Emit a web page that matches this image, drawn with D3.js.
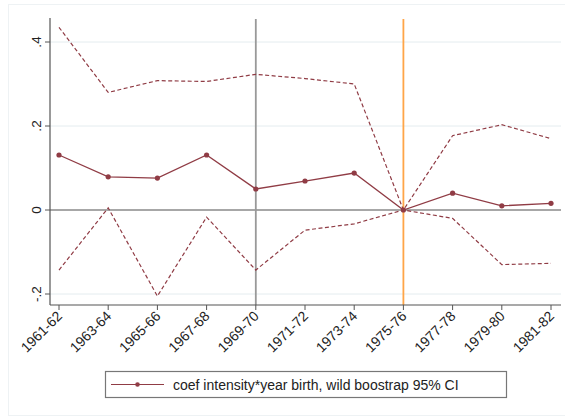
<!DOCTYPE html>
<html>
<head>
<meta charset="utf-8">
<script src="https://cdn.jsdelivr.net/npm/d3@7"></script>
<style>
  body { margin: 0; background: #fff; }
  text { font-family: "Liberation Sans", Arial, sans-serif; }
</style>
</head>
<body>
<div id="chart"></div>
<script>
// data
const cohorts = ["1961-62", "1963-64", "1965-66", "1967-68", "1969-70", "1971-72",
                 "1973-74", "1975-76", "1977-78", "1979-80", "1981-82"];
const coef  = [0.131, 0.079, 0.076, 0.131, 0.050, 0.069, 0.088, 0.000, 0.040, 0.010, 0.016];
const upper = [0.435, 0.280, 0.308, 0.306, 0.323, 0.313, 0.300, 0.000, 0.177, 0.203, 0.170];
const lower = [-0.143, 0.005, -0.205, -0.017, -0.143, -0.048, -0.033, 0.000, -0.020, -0.130, -0.127];
const yTicks = [-0.2, 0, 0.2, 0.4];
const yTickLabels = ["-.2", "0", ".2", ".4"];
const legendLabel = "coef intensity*year birth, wild boostrap 95% CI";

const width = 565, height = 417;
const red = "#903c45";

const svg = d3.select("#chart").append("svg")
    .attr("width", width)
    .attr("height", height);

// outer frame (very faint)
svg.append("rect")
    .attr("x", 8.5).attr("y", 4.5)
    .attr("width", 560).attr("height", 411)
    .attr("fill", "#fff")
    .attr("stroke", "#eef2f4");

const plot = { left: 50, right: 561, top: 18, bottom: 305 };

const x = d3.scalePoint()
    .domain(cohorts)
    .range([59, 551]);

const y = d3.scaleLinear()
    .domain([0, 0.4])
    .range([210, 42]);

const g = svg.append("g");

// gridlines
g.selectAll("line.grid")
    .data(yTicks.filter(d => d !== 0))
    .join("line")
    .attr("class", "grid")
    .attr("x1", plot.left).attr("x2", plot.right)
    .attr("y1", d => y(d)).attr("y2", d => y(d))
    .attr("stroke", "#e4ecef")
    .attr("stroke-width", 1);

// horizontal line at zero
g.append("line")
    .attr("x1", plot.left).attr("x2", plot.right)
    .attr("y1", y(0)).attr("y2", y(0))
    .attr("stroke", "#8a8a8a")
    .attr("stroke-width", 1.3);

// vertical reference lines
g.append("line")
    .attr("x1", x("1969-70")).attr("x2", x("1969-70"))
    .attr("y1", plot.top + 1).attr("y2", plot.bottom)
    .attr("stroke", "#999")
    .attr("stroke-width", 1.8);

g.append("line")
    .attr("x1", x("1975-76")).attr("x2", x("1975-76"))
    .attr("y1", plot.top + 1).attr("y2", plot.bottom)
    .attr("stroke", "#ffa548")
    .attr("stroke-width", 1.8);

const line = d3.line()
    .x((d, i) => x(cohorts[i]))
    .y(d => y(d));

// confidence interval bounds
[upper, lower].forEach(function (vals) {
    g.append("path")
        .datum(vals)
        .attr("d", line)
        .attr("fill", "none")
        .attr("stroke", red)
        .attr("stroke-width", 1.2)
        .attr("stroke-dasharray", "4,2.5");
});

// point estimates
g.append("path")
    .datum(coef)
    .attr("d", line)
    .attr("fill", "none")
    .attr("stroke", red)
    .attr("stroke-width", 1.3);

g.selectAll("circle.pt")
    .data(coef)
    .join("circle")
    .attr("class", "pt")
    .attr("cx", (d, i) => x(cohorts[i]))
    .attr("cy", d => y(d))
    .attr("r", 2.6)
    .attr("fill", red);

// y axis
const yAxis = svg.append("g")
    .attr("transform", `translate(${plot.left},0)`);
yAxis.append("line")
    .attr("x1", 0).attr("x2", 0)
    .attr("y1", plot.top).attr("y2", plot.bottom)
    .attr("stroke", "#555").attr("stroke-width", 1.2);
yAxis.selectAll("line.tick")
    .data(yTicks)
    .join("line")
    .attr("class", "tick")
    .attr("x1", -5).attr("x2", 0)
    .attr("y1", d => y(d)).attr("y2", d => y(d))
    .attr("stroke", "#555");
yAxis.selectAll("text")
    .data(yTicks)
    .join("text")
    .attr("transform", d => `translate(-9,${y(d)}) rotate(-90)`)
    .attr("text-anchor", "middle")
    .attr("font-size", 13.5)
    .attr("fill", "#222")
    .text((d, i) => yTickLabels[i]);

// x axis
const xAxis = svg.append("g")
    .attr("transform", `translate(0,${plot.bottom})`);
xAxis.append("line")
    .attr("x1", plot.left).attr("x2", plot.right)
    .attr("stroke", "#555").attr("stroke-width", 1.2);
xAxis.selectAll("line.tick")
    .data(cohorts)
    .join("line")
    .attr("class", "tick")
    .attr("x1", d => x(d)).attr("x2", d => x(d))
    .attr("y1", 0).attr("y2", 5)
    .attr("stroke", "#555");
xAxis.selectAll("text")
    .data(cohorts)
    .join("text")
    .attr("transform", d => `translate(${x(d) + 4},${12}) rotate(-45)`)
    .attr("text-anchor", "end")
    .attr("font-size", 14)
    .attr("fill", "#222")
    .text(d => d);

// legend
const leg = svg.append("g");
leg.append("rect")
    .attr("x", 105.5).attr("y", 371.5)
    .attr("width", 401).attr("height", 26)
    .attr("fill", "#fff")
    .attr("stroke", "#777")
    .attr("stroke-width", 1.2);
leg.append("line")
    .attr("x1", 111).attr("x2", 164)
    .attr("y1", 384.5).attr("y2", 384.5)
    .attr("stroke", red).attr("stroke-width", 1.2);
leg.append("circle")
    .attr("cx", 137.5).attr("cy", 384.5).attr("r", 2.3)
    .attr("fill", red);
leg.append("text")
    .attr("x", 173).attr("y", 389.5)
    .attr("font-size", 14)
    .attr("fill", "#222")
    .text(legendLabel);
</script>
</body>
</html>
